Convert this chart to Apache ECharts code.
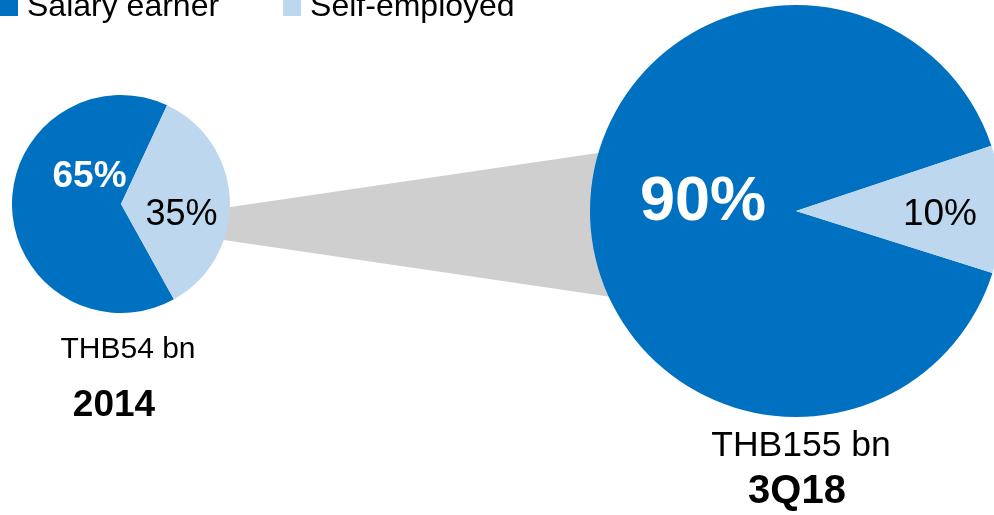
<!DOCTYPE html>
<html>
<head>
<meta charset="utf-8">
<title>Salary earner vs Self-employed</title>
<script src="https://cdn.jsdelivr.net/npm/echarts@6/dist/echarts.min.js"></script>
<style>
  html, body { margin: 0; padding: 0; background: #ffffff; }
  #chart { width: 994px; height: 515px; }
</style>
</head>
<body>
<div id="chart"></div>
<script>
// Borrower mix by segment
const categories = ['Salary earner', 'Self-employed'];
const share2014 = [65, 35];
const share3Q18 = [90, 10];
const totals = ['THB54 bn', 'THB155 bn'];
const periods = ['2014', '3Q18'];

const FONT = '"Liberation Sans", Arial, sans-serif';
const DARK = '#0070c0';
const LIGHT = '#bdd7ee';

// label nudges from the default inside position, per slice
const nudge2014 = [[26, -29], [3, 13]];
const nudge3Q18 = [[13, -9], [38, 5]];

function pieData(values, bigSize, smallSize) {
  return values.map((v, i) => ({
    name: categories[i],
    value: v,
    itemStyle: { color: i === 0 ? DARK : LIGHT },
    label: i === 0
      ? { color: '#ffffff', fontWeight: 'bold', fontSize: bigSize }
      : { color: '#000000', fontWeight: 'normal', fontSize: smallSize }
  }));
}

function pieSeries(values, center, radius, startAngle, nudges, bigSize, smallSize) {
  return {
    type: 'pie',
    center: center,
    radius: radius,
    startAngle: startAngle,
    clockwise: true,
    silent: true,
    animation: false,
    z: 3,
    itemStyle: { borderWidth: 0 },
    label: {
      show: true,
      position: 'inside',
      formatter: '{c}%',
      fontFamily: FONT
    },
    labelLine: { show: false },
    labelLayout: function (p) {
      const n = nudges[p.dataIndex];
      return { dx: n[0], dy: n[1] };
    },
    emphasis: { disabled: true },
    data: pieData(values, bigSize, smallSize)
  };
}

const chart = echarts.init(document.getElementById('chart'), null, { renderer: 'canvas' });

chart.setOption({
  animation: false,
  backgroundColor: '#ffffff',
  legend: {
    show: true,
    data: categories,
    left: 0,
    top: -9,
    padding: 0,
    orient: 'horizontal',
    icon: 'rect',
    itemWidth: 18,
    itemHeight: 18,
    itemGap: 64,
    selectedMode: false,
    textStyle: {
      fontFamily: FONT,
      fontSize: 32,
      color: '#000000',
      padding: [0, 0, 0, 4]
    }
  },
  graphic: [
    // connector band between the two pies
    {
      type: 'polygon',
      z: 0,
      silent: true,
      shape: { points: [[200, 211.4], [700, 138], [700, 310], [200, 236.6]] },
      style: { fill: '#d0cfd0' }
    },
    {
      type: 'text', z: 5, silent: true,
      style: { text: totals[0], x: 128, y: 350, align: 'center', verticalAlign: 'middle',
               font: '30px ' + FONT, fill: '#000000' }
    },
    {
      type: 'text', z: 5, silent: true,
      style: { text: periods[0], x: 114, y: 406, align: 'center', verticalAlign: 'middle',
               font: 'bold 37px ' + FONT, fill: '#000000' }
    },
    {
      type: 'text', z: 5, silent: true,
      style: { text: totals[1], x: 801, y: 446, align: 'center', verticalAlign: 'middle',
               font: '35.5px ' + FONT, fill: '#000000' }
    },
    {
      type: 'text', z: 5, silent: true,
      style: { text: periods[1], x: 797, y: 492, align: 'center', verticalAlign: 'middle',
               font: 'bold 40px ' + FONT, fill: '#000000' }
    }
  ],
  series: [
    pieSeries(share2014, [121, 204], 109, -61, nudge2014, 37, 36),
    pieSeries(share3Q18, [796, 211], 206, -17.5, nudge3Q18, 63, 37)
  ]
});
</script>
</body>
</html>
